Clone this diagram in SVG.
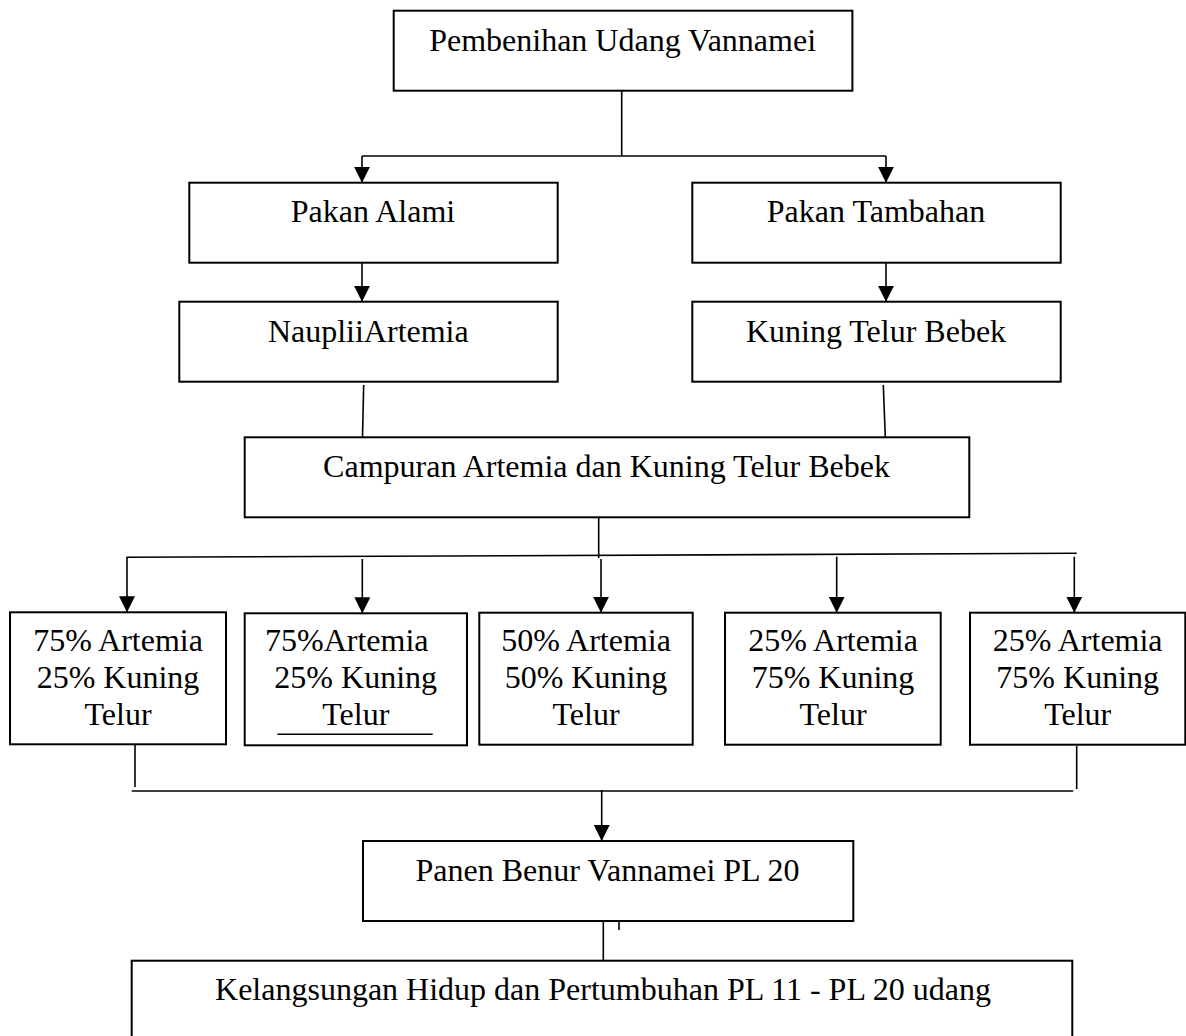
<svg xmlns="http://www.w3.org/2000/svg" width="1186" height="1036" viewBox="0 0 1186 1036">
<style>
.box{fill:#fff;stroke:#000;stroke-width:2}
.t{font-family:"Liberation Serif","Times New Roman",serif;font-size:32px;fill:#000;text-anchor:middle}
.ts{font-family:"Liberation Serif","Times New Roman",serif;font-size:32px;fill:#000}
.ln{fill:none;stroke:#000;stroke-width:1.6}
.ar{fill:none;stroke:#000;stroke-width:1.6;marker-end:url(#ah)}
</style>
<defs>
<marker id="ah" markerUnits="userSpaceOnUse" markerWidth="16" markerHeight="16" refX="16" refY="8" orient="auto" viewBox="0 0 16 16">
<path d="M0,0 L16,8 L0,16 z" fill="#000"/>
</marker>
</defs>
<rect width="1186" height="1036" fill="#fff"/>
<g id="connectors">
<path class="ln" d="M621.7,90.7 V156"/>
<path class="ln" d="M362,156 H886"/>
<path class="ar" d="M362,156 V182.7"/>
<path class="ar" d="M886,156 V182.7"/>
<path class="ar" d="M362,262.7 V301.7"/>
<path class="ar" d="M886,262.7 V301.7"/>
<path class="ln" d="M363.7,385 L362.5,437"/>
<path class="ln" d="M883.3,385 L885.3,437"/>
<path class="ln" d="M598.7,511 V558"/>
<path class="ln" d="M126.7,557.3 L1076.7,553.3"/>
<path class="ar" d="M127,557 V612.3"/>
<path class="ar" d="M362.3,559 V613.3"/>
<path class="ar" d="M601,559 V612.7"/>
<path class="ar" d="M836.7,556.7 V612.7"/>
<path class="ar" d="M1074.3,556.7 V612.7"/>
<path class="ln" d="M135,745 V787"/>
<path class="ln" d="M1076.7,746 V789"/>
<path class="ln" d="M131.7,791 H1073.3"/>
<path class="ar" d="M601.7,790 V841"/>
<path class="ln" d="M603.3,921.7 V961"/>
<path class="ln" d="M619,921 V930"/>
</g>
<g id="n-pembenihan">
<rect class="box" x="393.7" y="10.7" width="458.7" height="80"/>
<text class="t" x="622.6" y="50.7">Pembenihan Udang Vannamei</text>
</g>
<g id="n-pakan-alami">
<rect class="box" x="189.3" y="182.7" width="368.4" height="80"/>
<text class="t" x="373" y="221.7">Pakan Alami</text>
</g>
<g id="n-pakan-tambahan">
<rect class="box" x="692.3" y="182.7" width="368.4" height="80"/>
<text class="t" x="876" y="221.7">Pakan Tambahan</text>
</g>
<g id="n-nauplii">
<rect class="box" x="179.3" y="301.7" width="378.4" height="80"/>
<text class="t" x="368.3" y="341.7">NaupliiArtemia</text>
</g>
<g id="n-kuning">
<rect class="box" x="692.3" y="301.7" width="368.4" height="80"/>
<text class="t" x="876" y="341.7">Kuning Telur Bebek</text>
</g>
<g id="n-campuran">
<rect class="box" x="244.7" y="437.3" width="724.6" height="80"/>
<text class="t" x="606.5" y="476.7">Campuran Artemia dan Kuning Telur Bebek</text>
</g>
<g id="n-p1">
<rect class="box" x="10" y="612.3" width="216" height="132"/>
<text class="t" x="118" y="651">75% Artemia</text>
<text class="t" x="118" y="688">25% Kuning</text>
<text class="t" x="118" y="725">Telur</text>
</g>
<g id="n-p2">
<rect class="box" x="244.7" y="613.3" width="222.3" height="132"/>
<text class="ts" x="265" y="651">75%Artemia</text>
<text class="t" x="355.7" y="688">25% Kuning</text>
<text class="t" x="355.8" y="725">Telur</text>
<path class="ln" d="M277.3,734.3 H432.7"/>
</g>
<g id="n-p3">
<rect class="box" x="479.3" y="612.7" width="213.4" height="132"/>
<text class="t" x="586" y="651">50% Artemia</text>
<text class="t" x="586" y="688">50% Kuning</text>
<text class="t" x="586" y="725">Telur</text>
</g>
<g id="n-p4">
<rect class="box" x="725" y="612.7" width="215.7" height="132"/>
<text class="t" x="833" y="651">25% Artemia</text>
<text class="t" x="833" y="688">75% Kuning</text>
<text class="t" x="833" y="725">Telur</text>
</g>
<g id="n-p5">
<rect class="box" x="970" y="612.7" width="215.3" height="132"/>
<text class="t" x="1077.7" y="651">25% Artemia</text>
<text class="t" x="1077.7" y="688">75% Kuning</text>
<text class="t" x="1077.7" y="725">Telur</text>
</g>
<g id="n-panen">
<rect class="box" x="363" y="841" width="490.3" height="80"/>
<text class="t" x="607.5" y="880.7">Panen Benur Vannamei PL 20</text>
</g>
<g id="n-kelangsungan">
<rect class="box" x="131.7" y="960.7" width="940.6" height="100"/>
<text class="t" x="603" y="1000">Kelangsungan Hidup dan Pertumbuhan PL 11 - PL 20 udang</text>
</g>
</svg>
